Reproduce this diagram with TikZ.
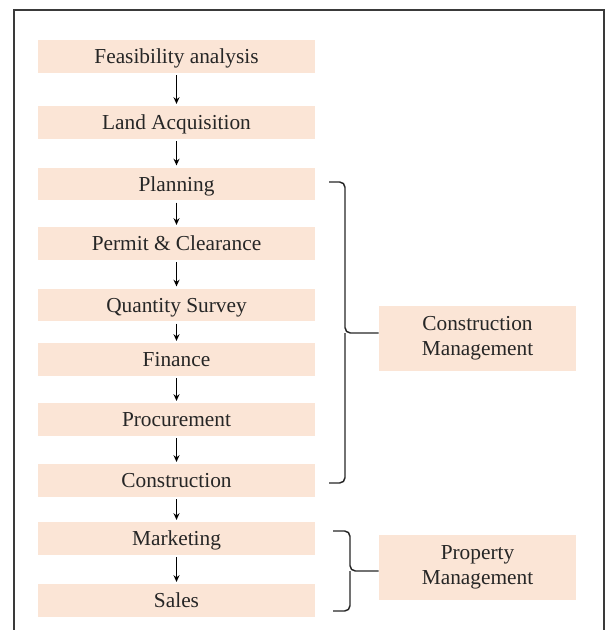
\documentclass[tikz,border=0pt]{standalone}
\usepackage{fontspec}
\setmainfont{Liberation Serif}
\usetikzlibrary{arrows.meta}

\definecolor{peach}{HTML}{FBE5D6}
\definecolor{frameline}{HTML}{3A3A3A}

\tikzset{
  stage/.style={fill=peach, minimum width=207.75pt, minimum height=24.5pt, inner sep=0pt,
    text height=13pt, text depth=2pt,
    text=black!85, font=\rmfamily\fontsize{16}{18}\selectfont},
  group/.style={fill=peach, minimum width=147.75pt, minimum height=48.75pt, inner sep=0pt,
    align=center, text=black!85, font=\rmfamily\fontsize{16}{19}\selectfont},
  flow/.style={-{Stealth[length=5pt,width=4.5pt]}, line width=1pt, shorten <=1.5pt, shorten >=1.5pt},
  bracket/.style={line width=1.1pt, rounded corners=4pt, black!85}
}

\begin{document}
\begin{tikzpicture}[x=0.75pt,y=-0.75pt]
\useasboundingbox (0,0) rectangle (605,630);

% open frame round the chart
\draw[frameline, line width=1.2pt] (14,630) -- (14,10) -- (604,10) -- (604,630);

% project stages
\node[stage] (feas)  at (176.5, 56.5) {Feasibility analysis};
\node[stage] (land)  at (176.5,122.5) {Land Acquisition};
\node[stage] (plan)  at (176.5,184)   {Planning};
\node[stage] (perm)  at (176.5,243.5) {Permit \& Clearance};
\node[stage] (qs)    at (176.5,305)   {Quantity Survey};
\node[stage] (fin)   at (176.5,359.5) {Finance};
\node[stage] (proc)  at (176.5,419.5) {Procurement};
\node[stage] (cons)  at (176.5,480.5) {Construction};
\node[stage] (mkt)   at (176.5,538.5) {Marketing};
\node[stage] (sales) at (176.5,600.5) {Sales};

% management groups
\node[group] (cm) at (477.5,338.5) {Construction\\Management};
\node[group] (pm) at (477.5,567.5) {Property\\Management};

\foreach \a/\b in {feas/land, land/plan, plan/perm, perm/qs, qs/fin, fin/proc,
                   proc/cons, cons/mkt, mkt/sales}
  \draw[flow] (\a) -- (\b);

% bracket ends
\coordinate (cmtop) at (329,182);
\coordinate (cmbot) at (329,483);
\coordinate (cmmid) at (345,333);
\coordinate (pmtop) at (333,531);
\coordinate (pmbot) at (333,611);
\coordinate (pmmid) at (350,571);

\draw[bracket] (cmtop) -- (cmtop -| cmmid) -- (cmmid) -- (cmmid -| cm.west);
\draw[bracket] (cmmid) -- (cmbot -| cmmid) -- (cmbot);
\draw[bracket] (pmtop) -- (pmtop -| pmmid) -- (pmmid) -- (pmmid -| pm.west);
\draw[bracket] (pmmid) -- (pmbot -| pmmid) -- (pmbot);

\end{tikzpicture}
\end{document}
